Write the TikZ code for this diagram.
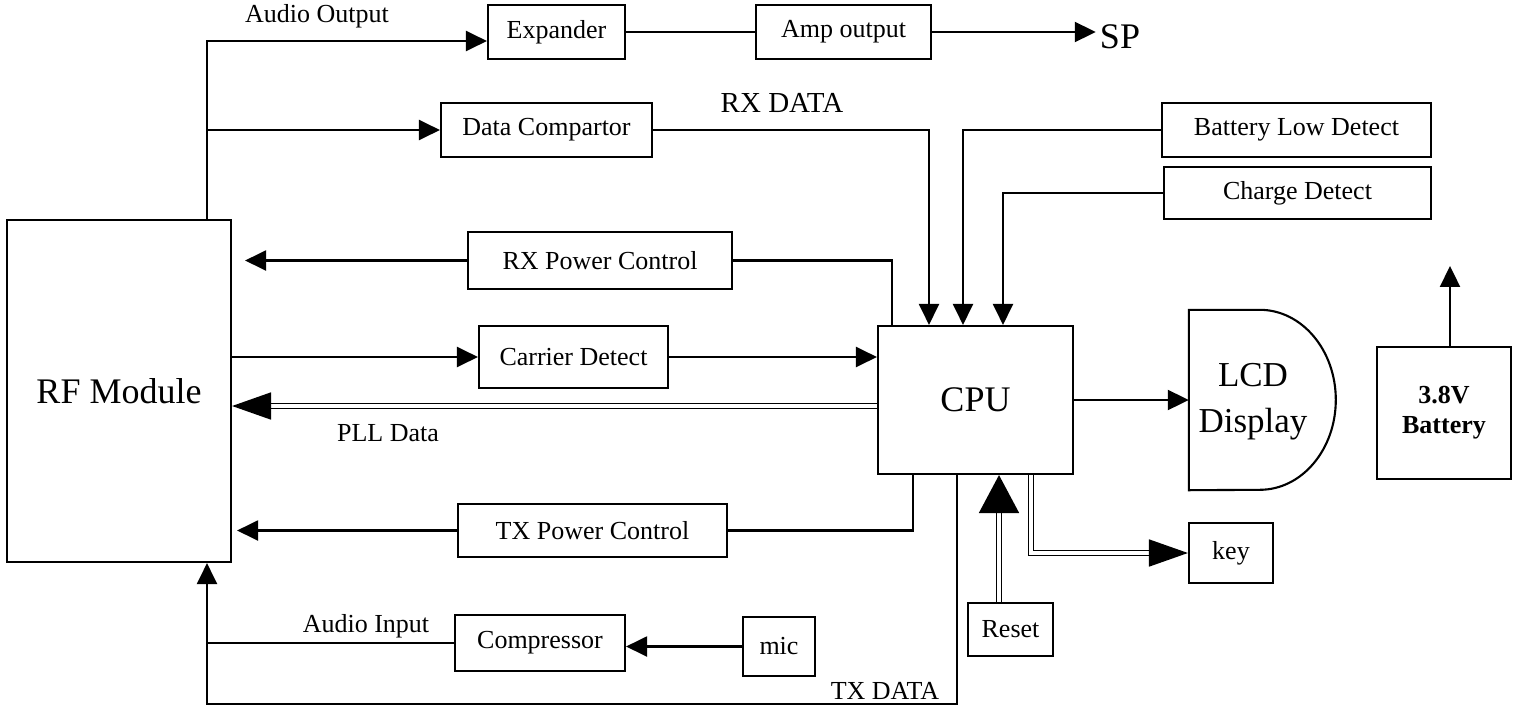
\documentclass[tikz,border=0pt]{standalone}
\usepackage{fontspec}
\setmainfont{Liberation Serif}
\usetikzlibrary{arrows.meta,calc}
\newcommand\smf{\fontsize{26}{30}\selectfont}
\newcommand\bigf{\fontsize{36}{44}\selectfont}
\begin{document}
\begin{tikzpicture}[x=1pt,y=1pt,
  ln/.style={line width=2.1pt},
  box/.style={draw,line width=2.1pt,inner sep=0pt,font=\smf},
  lbl/.style={inner sep=0pt,font=\smf},
  arr/.style={ln,-{Triangle[length=21pt,width=20pt]}},
  dbl/.style={double,line width=1.7pt,double distance=3.2pt,-{Triangle[length=39pt,width=27pt]}},
  dblr/.style={double,line width=1.7pt,double distance=3.2pt,-{Triangle[length=38pt,width=40pt]}}
]
\useasboundingbox (0,0) rectangle (1513,-710);
% nodes
\node[box,minimum width=224,minimum height=342,font=\bigf] (rf) at (119,-391) {RF Module};
\node[box,minimum width=137,minimum height=54] (exp) at (556.5,-32) {Expander};
\node[box,minimum width=175,minimum height=54] (amp) at (843.5,-32) {Amp output};
\node[inner sep=4pt,font=\bigf] (sp) at (1120,-37) {SP};
\node[box,minimum width=211,minimum height=54] (dc) at (546.5,-130) {Data Compartor};
\node[inner sep=0pt,font=\fontsize{29}{34}\selectfont] (rxdl) at (782,-103) {RX DATA};
\node[box,minimum width=269,minimum height=54] (bld) at (1296.5,-130) {Battery Low Detect};
\node[box,minimum width=267,minimum height=52] (chg) at (1297.5,-193) {Charge Detect};
\node[box,minimum width=264,minimum height=57] (rxp) at (600,-260.5) {RX Power Control};
\node[box,minimum width=189,minimum height=62] (cd) at (573.5,-357) {Carrier Detect};
\node[box,minimum width=195,minimum height=148,font=\bigf] (cpu) at (975.5,-400) {CPU};
\node[minimum width=147,minimum height=180,inner sep=0pt] (lcd) at (1262.5,-400) {};
\draw[ln] (lcd.north west) -- ++(71,0) arc[start angle=90,end angle=-90,x radius=76,y radius=90] -- (lcd.south west) -- cycle;
\node[inner sep=0pt,font=\fontsize{35}{46}\selectfont,align=center] (lcdt) at (1253,-402) {LCD\\Display};
\node[box,minimum width=134,minimum height=132,align=center,font=\bfseries\smf] (bat) at (1444,-413) {3.8V\\Battery};
\node[lbl] (pll) at (388,-433) {PLL Data};
\node[box,minimum width=269,minimum height=53] (txp) at (592.5,-530.5) {TX Power Control};
\node[box,minimum width=84,minimum height=60] (key) at (1231,-553) {key};
\node[box,minimum width=85,minimum height=53] (reset) at (1010.5,-629.5) {Reset};
\node[box,minimum width=170,minimum height=56] (comp) at (540,-643) {Compressor};
\node[box,minimum width=72,minimum height=59] (mic) at (779,-646.5) {mic};
\node[lbl] (ail) at (366,-626) {Audio Input};
\node[lbl] (aol) at (317,-16) {Audio Output};
\node[lbl] (txdl) at (885,-691) {TX DATA};
% coordinates
\coordinate (ao) at (207,-41);
\coordinate (rxd) at (929,-130);
\coordinate (txd) at (957,-704);
\coordinate (bl) at (207,-704);
\path ([xshift=13pt]rf.east) coordinate (rfe1);
\path ([xshift=5pt]rf.east) coordinate (rfe2);
\path ([yshift=-6pt]cpu.west) coordinate (pllc);
% connectors
\draw[arr] (rf.north -| ao) -- (ao) -- (ao -| exp.west);
\draw[arr] (ao |- dc.west) -- (dc.west);
\draw[ln] (exp.east) -- (amp.west);
\draw[arr] (amp.east) -- (amp.east -| sp.west);
\draw[arr] (dc.east) -- (rxd) -- (rxd |- cpu.north);
\draw[arr] (bld.west) -| ([xshift=-12.5pt]cpu.north);
\draw[arr] (chg.west) -| ([xshift=27.5pt]cpu.north);
\draw[arr] (rxp.west) -- (rfe1 |- rxp.west);
\draw[ln] (rxp.east) -| ([xshift=-83.5pt]cpu.north);
\draw[arr] (rf.east |- cd.west) -- (cd.west);
\draw[arr] (cd.east) -- (cpu.west |- cd.east);
\draw[dbl] (pllc) -- (rf.east |- pllc);
\draw[arr] (txp.west) -- (rfe2 |- txp.west);
\draw[ln] (txp.east) -| ([xshift=-62.5pt]cpu.south);
\draw[arr] (mic.west) -- (comp.east |- mic.west);
\draw[ln] (comp.west) -- (comp.west -| bl);
\draw[arr] ([xshift=-18.5pt]cpu.south) -- (txd) -- (bl) -- (rf.south -| bl);
\draw[dblr] ([xshift=-11.5pt]reset.north) -- ([xshift=-11.5pt]reset.north |- cpu.south);
\draw[dbl] ([xshift=55.5pt]cpu.south) |- (key.west);
\draw[arr] (cpu.east) -- (lcd.west);
\draw[arr] ([xshift=6pt]bat.north) -- ++(0,80);
\end{tikzpicture}
\end{document}
